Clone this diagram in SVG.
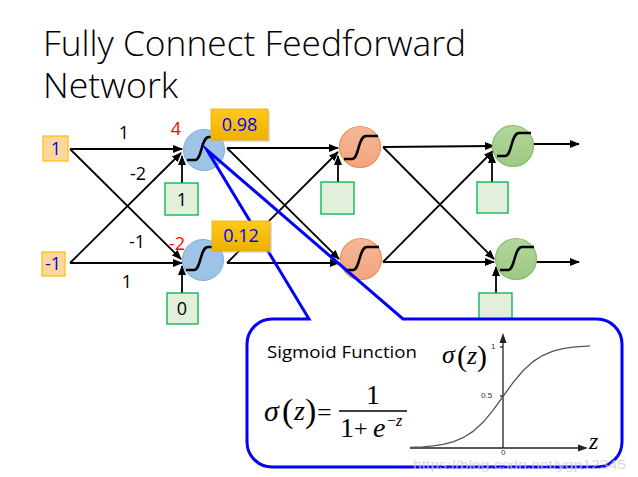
<svg xmlns="http://www.w3.org/2000/svg" width="638" height="477" viewBox="0 0 638 477">
<defs>
<marker id="ah" markerUnits="userSpaceOnUse" markerWidth="10" markerHeight="8" refX="9" refY="4" orient="auto">
<path d="M0,0 L10,4 L0,8 z" fill="#000"/>
</marker>
<linearGradient id="gold" x1="0" y1="0" x2="0" y2="1">
<stop offset="0" stop-color="#FFCA1A"/>
<stop offset="1" stop-color="#EDB000"/>
</linearGradient>
<linearGradient id="org" x1="0" y1="0" x2="0" y2="1">
<stop offset="0" stop-color="#F6B799"/>
<stop offset="1" stop-color="#F3A480"/>
</linearGradient>
<linearGradient id="grn" x1="0" y1="0" x2="0" y2="1">
<stop offset="0" stop-color="#B3D79C"/>
<stop offset="1" stop-color="#9CC983"/>
</linearGradient>
<path id="sig" d="M-17,10 H-9 C-2,10 -3,-13 5,-13 H17" fill="none" stroke="#000" stroke-width="2.5"/>
</defs>
<style>
.title{font-family:"Open Sans","Liberation Sans",sans-serif;font-weight:300;font-size:34px;fill:#000}
.w{font-family:"Open Sans","Liberation Sans",sans-serif;font-size:18px;fill:#000;text-anchor:middle}
.r{font-family:"Open Sans","Liberation Sans",sans-serif;font-size:18px;fill:#FF0000;text-anchor:middle}
.b{font-family:"Open Sans","Liberation Sans",sans-serif;font-size:18px;fill:#0000FF;text-anchor:middle}
.in{fill:#FDD79A;stroke:#FFC000;stroke-width:1.2}
.bias{fill:#E2EFDA;stroke:#00B050;stroke-width:1.3}
.val{fill:url(#gold);stroke:#E5AC00;stroke-width:0.8}
.e{stroke:#000;stroke-width:1.8;fill:none;marker-end:url(#ah)}
.nb{fill:#9DC3E6;stroke:#82AEDB;stroke-width:1}
.no{fill:url(#org);stroke:#F08F55;stroke-width:1.2}
.ng{fill:url(#grn);stroke:#87BE6A;stroke-width:1.2}
.m{font-family:"Liberation Serif","Times New Roman",serif;fill:#000}
.ax{stroke:#222;stroke-width:1.3;fill:none}
.tk{font-family:"Liberation Sans",Arial,sans-serif;font-size:8px;fill:#333}
</style>

<g id="title">
<text class="title" x="43" y="56" textLength="423" lengthAdjust="spacingAndGlyphs">Fully Connect Feedforward</text>
<text class="title" x="43" y="98" textLength="135" lengthAdjust="spacingAndGlyphs">Network</text>
</g>

<g id="connectors">
<line class="e" x1="70" y1="149" x2="182" y2="149"/>
<line class="e" x1="70" y1="149" x2="181" y2="259"/>
<line class="e" x1="70" y1="263" x2="181" y2="153"/>
<line class="e" x1="70" y1="263" x2="182" y2="263"/>
<line class="e" x1="182" y1="183" x2="182" y2="156"/>
<line class="e" x1="182" y1="293" x2="182" y2="266"/>
<line class="e" x1="227" y1="148" x2="338" y2="148"/>
<line class="e" x1="227" y1="148" x2="339" y2="259"/>
<line class="e" x1="227" y1="263" x2="338" y2="152"/>
<line class="e" x1="227" y1="263" x2="339" y2="263"/>
<line class="e" x1="338" y1="182" x2="338" y2="156"/>
<line class="e" x1="383" y1="147" x2="494" y2="146"/>
<line class="e" x1="383" y1="147" x2="494" y2="259"/>
<line class="e" x1="383" y1="262" x2="493" y2="151"/>
<line class="e" x1="383" y1="262" x2="494" y2="262"/>
<line class="e" x1="492" y1="182" x2="492" y2="154"/>
<line class="e" x1="496" y1="293" x2="496" y2="267"/>
<line class="e" x1="533" y1="144" x2="579" y2="144"/>
<line class="e" x1="536" y1="262" x2="579" y2="262"/>
</g>

<g id="weights">
<text class="w" x="124" y="139">1</text>
<text class="w" x="138" y="180">-2</text>
<text class="w" x="137" y="248">-1</text>
<text class="w" x="127" y="288">1</text>
</g>

<g id="input1"><rect class="in" x="43" y="136" width="25" height="25"/><text class="b" x="56" y="155">1</text></g>
<g id="input2"><rect class="in" x="42" y="252" width="23" height="24"/><text class="b" x="53" y="270">-1</text></g>

<g id="n1"><circle class="nb" cx="204" cy="150" r="20.5"/><use href="#sig" x="204" y="150"/></g>
<g id="n2"><circle class="nb" cx="203" cy="260" r="20.5"/><use href="#sig" x="203" y="260"/></g>
<g id="n3"><circle class="no" cx="360" cy="147" r="20.5"/><use href="#sig" x="361" y="149"/></g>
<g id="n4"><circle class="no" cx="361" cy="259" r="20.5"/><use href="#sig" x="362" y="260"/></g>
<g id="n5"><circle class="ng" cx="513" cy="146" r="20.5"/><use href="#sig" x="514" y="146"/></g>
<g id="n6"><circle class="ng" cx="516" cy="259" r="20.5"/><use href="#sig" x="517" y="260"/></g>

<g id="z1"><text class="r" x="176" y="135">4</text></g>
<g id="z2"><text class="r" x="177" y="250">-2</text></g>

<g id="b1"><rect class="bias" x="165" y="183" width="33" height="32"/><text class="w" x="182" y="206">1</text></g>
<g id="b2"><rect class="bias" x="167" y="293" width="31" height="31"/><text class="w" x="182" y="315">0</text></g>
<g id="b3"><rect class="bias" x="321" y="182" width="33" height="32"/></g>
<g id="b4"><rect class="bias" x="477" y="182" width="31" height="31"/></g>
<g id="b5"><rect class="bias" x="479" y="293" width="33" height="32"/></g>

<g id="callout">
<rect x="247" y="319" width="375" height="148" rx="25" fill="#fff"/>
<path d="M309,319 L207,150 L403,319 H597 A25,25 0 0 1 622,344 V442 A25,25 0 0 1 597,467 H272 A25,25 0 0 1 247,442 V344 A25,25 0 0 1 272,319 Z" fill="none" stroke="#0000FF" stroke-width="3" stroke-linejoin="miter" stroke-miterlimit="20"/>
<text x="267" y="358" font-family="'Open Sans','Liberation Sans',sans-serif" font-size="16" fill="#000" textLength="150" lengthAdjust="spacingAndGlyphs">Sigmoid Function</text>
<text class="m" x="264" y="421" font-size="30" font-style="italic">σ</text>
<text class="m" x="282" y="422" font-size="34">(</text>
<text class="m" x="294" y="420" font-size="28" font-style="italic">z</text>
<text class="m" x="305" y="422" font-size="34">)</text>
<text class="m" x="317" y="421" font-size="26">=</text>
<line x1="339" y1="411" x2="407" y2="411" stroke="#000" stroke-width="1.3"/>
<text class="m" x="373" y="404" font-size="28" text-anchor="middle">1</text>
<text class="m" x="340" y="437" font-size="28">1</text>
<text class="m" x="354" y="436" font-size="24">+</text>
<text class="m" x="373" y="437" font-size="28" font-style="italic">e</text>
<text class="m" x="387" y="426" font-size="16">−<tspan font-style="italic">z</tspan></text>

<text class="m" x="442" y="363" font-size="26" font-style="italic">σ</text>
<text class="m" x="457" y="366" font-size="30">(</text>
<text class="m" x="467" y="364" font-size="26" font-style="italic">z</text>
<text class="m" x="477" y="366" font-size="30">)</text>

<line class="ax" x1="410" y1="448" x2="580" y2="448"/>
<path d="M588,448 L578,444.5 L578,451.5 z" fill="#222"/>
<line class="ax" x1="503" y1="448" x2="503" y2="340"/>
<path d="M503,333 L499.5,343 L506.5,343 z" fill="#222"/>
<line class="ax" x1="500" y1="347" x2="503" y2="347"/>
<line class="ax" x1="500" y1="396" x2="503" y2="396"/>
<text class="tk" x="491" y="349">1</text>
<text class="tk" x="481" y="398">0.5</text>
<text class="tk" x="501" y="455">0</text>
<polyline fill="none" stroke="#555" stroke-width="1.3" points="410,447.4 423,446.8 433,445.9 443,444.3 453,441.8 463,437.7 473,431.4 483,422.3 493,410.3 503,396.5 513,382.7 523,370.8 533,361.6 543,355.3 553,351.2 563,348.7 573,347.1 590,345.8"/>
<text class="m" x="589" y="449" font-size="24" font-style="italic">z</text>
</g>

<g id="v1"><rect x="213" y="111" width="57" height="31" fill="#bbb" opacity="0.5"/><rect class="val" x="211" y="109" width="57" height="31"/><text class="b" x="239.5" y="131">0.98</text></g>
<g id="v2"><rect x="214" y="223" width="58" height="30" fill="#bbb" opacity="0.5"/><rect class="val" x="212" y="221" width="58" height="30"/><text class="b" x="241" y="242">0.12</text></g>

<text x="413" y="469" font-family="'Liberation Sans',Arial,sans-serif" font-size="13" fill="#d0d0d0" opacity="0.8" textLength="213" lengthAdjust="spacingAndGlyphs">https://blog.csdn.net/ygp12345</text>
</svg>
